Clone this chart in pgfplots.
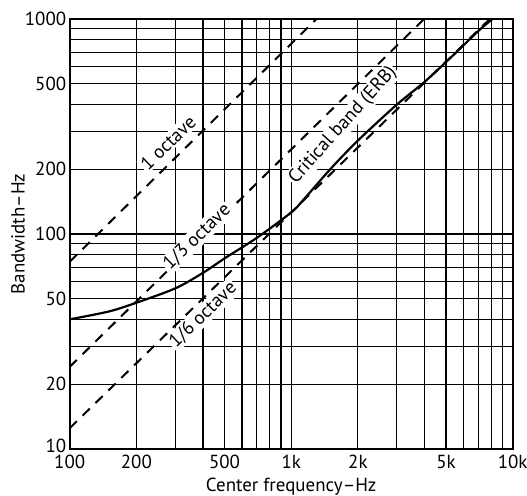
\documentclass[border=0pt]{standalone}
\usepackage{fontspec}
\setmainfont{PT Sans}
\usepackage{pgfplots}
\pgfplotsset{compat=1.18}
\begin{document}
\begin{tikzpicture}
\begin{axis}[
 at={(0,0)}, anchor=south west,
 scale only axis, width=443bp, height=430bp,
 xmode=log, ymode=log,
 xmin=100, xmax=10000, ymin=10, ymax=1000,
 xtick={100,200,500,1000,2000,5000,10000},
 xticklabels={100,200,500,1k,2k,5k,10k},
 ytick={10,20,50,100,200,500,1000},
 yticklabels={\raisebox{7bp}{10},20,50,100,200,500,1000},
 minor xtick={300,400,600,700,800,900,3000,4000,6000,7000,8000,9000},
 minor ytick={30,40,60,70,80,90,300,400,600,700,800,900},
 grid=both,
 major grid style={black, line width=1.2bp},
 minor grid style={black, line width=1.2bp},
 major tick length=0pt, minor tick length=0pt,
 axis line style={line width=1.6bp},
 /pgf/number format/assume math mode=true,
 tick label style={font=\fontsize{19}{21}\selectfont},
 xticklabel style={yshift=-3bp},
 label style={font=\fontsize{19}{21}\selectfont},
 xlabel={Center frequency–Hz},
 ylabel={Bandwidth–Hz},
 xlabel style={at={(axis description cs:0.5,-0.088)}, anchor=center},
 ylabel style={at={(axis description cs:-0.1167,0.5)}, anchor=center},
]
\addplot[black, line width=2bp, dash pattern=on 10bp off 8bp] coordinates {(100,74.3) (1300,1000)};
\addplot[black, line width=2bp, dash pattern=on 10bp off 8bp] coordinates {(100,24.1) (3980,1000)};
\addplot[black, line width=2bp, dash pattern=on 10bp off 8bp] coordinates {(100,12.5) (7880,1000)};
\addplot[black, line width=2.2bp, smooth] coordinates {
 (100,40.1) (150,43.6) (200,47.9) (300,55.9) (400,66) (500,77) (700,96)
 (1000,126) (1134,144) (1500,200) (2000,272) (3000,400) (4000,510)
 (5400,680) (7000,880) (8100,1000)};
\node[fill=white, inner sep=1.5bp, rotate=44, font=\fontsize{19}{21}\selectfont] at (axis cs:278,265) {1 octave};
\node[fill=white, inner sep=1.5bp, rotate=44, font=\fontsize{19}{21}\selectfont] at (axis cs:376,96.8) {1/3 octave};
\node[fill=white, inner sep=1.5bp, rotate=44, font=\fontsize{19}{21}\selectfont] at (axis cs:400,42) {1/6 octave};
\node[fill=white, inner sep=1.5bp, rotate=48, font=\fontsize{19}{21}\selectfont] at (axis cs:1714,321) {Critical band (ERB)};
\end{axis}
\pgfresetboundingbox
\useasboundingbox (-69.7bp,-47bp) rectangle (457.3bp,449bp);
\end{tikzpicture}
\end{document}
